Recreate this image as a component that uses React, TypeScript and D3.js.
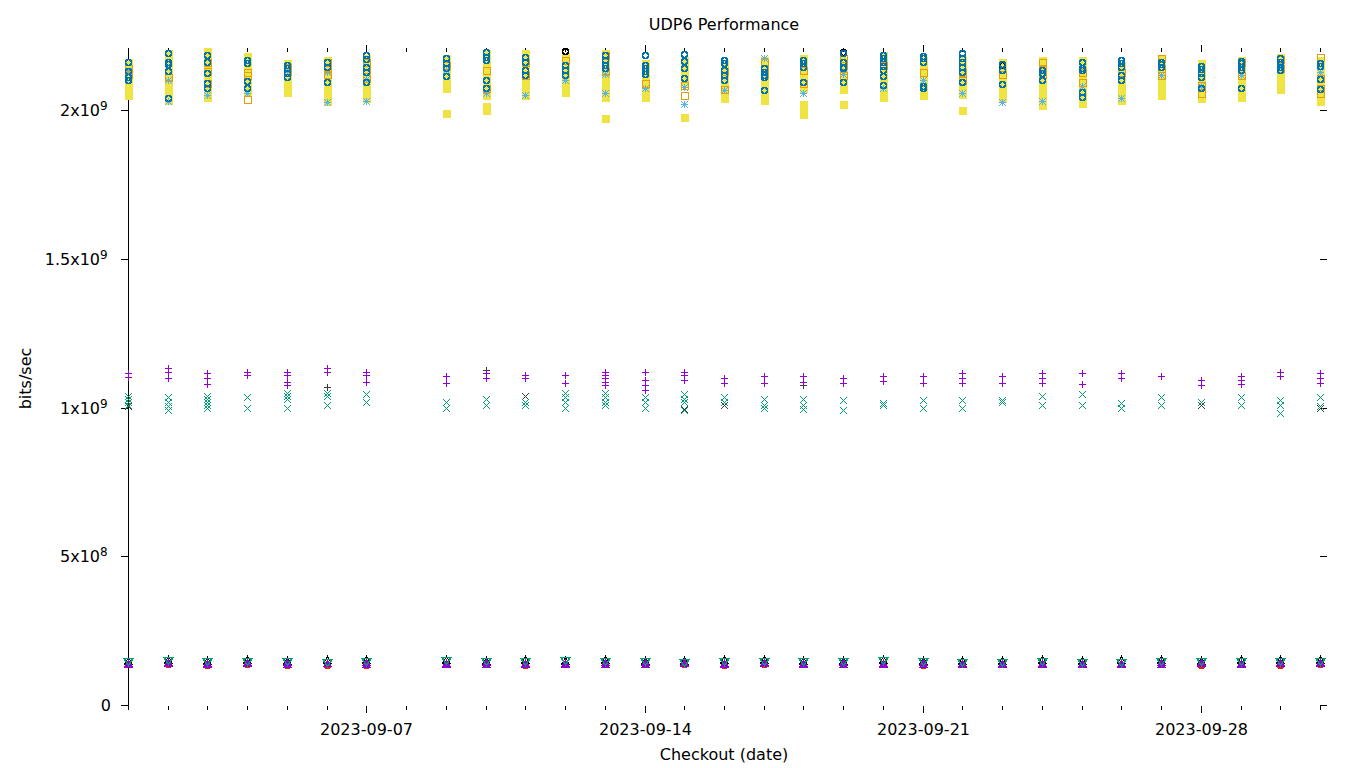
import React from "react";
import * as d3 from "d3";

// ---- data (values in units of 1e9 bits/sec) ----
const dates: string[] = [
  "2023-09-01", "2023-09-02", "2023-09-03", "2023-09-04", "2023-09-05", "2023-09-06", "2023-09-07",
  "2023-09-09", "2023-09-10", "2023-09-11", "2023-09-12", "2023-09-13", "2023-09-14", "2023-09-15",
  "2023-09-16", "2023-09-17", "2023-09-18", "2023-09-19", "2023-09-20", "2023-09-21", "2023-09-22",
  "2023-09-23", "2023-09-24", "2023-09-25", "2023-09-26", "2023-09-27", "2023-09-28", "2023-09-29",
  "2023-09-30", "2023-10-01",
];

const xTickLabels: string[] = ["2023-09-07", "2023-09-14", "2023-09-21", "2023-09-28"];
const yTickValues: number[] = [0, 0.5, 1, 1.5, 2];
const yTickMantissa: string[] = ["0", "5x10", "1x10", "1.5x10", "2x10"];
const yTickExponent: string[] = ["", "8", "9", "9", "9"];

const yellowSquares: number[][] = [
  [2.16, 2.14, 2.12, 2.10, 2.08, 2.06, 2.05],
  [2.19, 2.17, 2.15, 2.13, 2.11, 2.09, 2.07, 2.05, 2.035],
  [2.20, 2.18, 2.16, 2.14, 2.12, 2.10, 2.08, 2.06, 2.045],
  [2.18, 2.16, 2.14, 2.12, 2.10, 2.08, 2.06],
  [2.158, 2.14, 2.12, 2.10, 2.08, 2.06],
  [2.168, 2.15, 2.13, 2.11, 2.09, 2.07, 2.05, 2.03],
  [2.175, 2.155, 2.135, 2.115, 2.095, 2.075, 2.055, 2.04],
  [2.175, 2.155, 2.135, 2.115, 2.095, 2.075, 1.99],
  [2.19, 2.17, 2.15, 2.13, 2.11, 2.09, 2.07, 2.05, 2.015, 2.0],
  [2.19, 2.17, 2.15, 2.13, 2.11, 2.09, 2.07, 2.05],
  [2.18, 2.16, 2.14, 2.12, 2.10, 2.08, 2.06],
  [2.19, 2.17, 2.15, 2.13, 2.11, 2.09, 2.07, 2.045, 1.972],
  [2.158, 2.14, 2.12, 2.10, 2.08, 2.06, 2.045],
  [2.168, 2.15, 2.13, 2.11, 2.09, 1.976],
  [2.158, 2.14, 2.12, 2.10, 2.08, 2.06, 2.04],
  [2.168, 2.15, 2.13, 2.11, 2.09, 2.07, 2.05, 2.035],
  [2.175, 2.155, 2.135, 2.115, 2.095, 2.075, 2.02, 2.0, 1.985],
  [2.168, 2.15, 2.13, 2.11, 2.09, 2.07, 2.02],
  [2.185, 2.165, 2.145, 2.125, 2.105, 2.085, 2.065, 2.045],
  [2.168, 2.15, 2.13, 2.11, 2.09, 2.07, 2.05],
  [2.168, 2.15, 2.13, 2.11, 2.09, 2.07, 2.055, 2.0],
  [2.16, 2.14, 2.12, 2.10, 2.08, 2.06, 2.04],
  [2.168, 2.15, 2.13, 2.11, 2.09, 2.07, 2.05, 2.03, 2.017],
  [2.168, 2.15, 2.13, 2.11, 2.09, 2.07, 2.05, 2.03, 2.022],
  [2.15, 2.13, 2.11, 2.09, 2.07, 2.05, 2.035],
  [2.175, 2.155, 2.135, 2.115, 2.09, 2.07, 2.05],
  [2.158, 2.14, 2.12, 2.10, 2.08, 2.06, 2.04],
  [2.168, 2.15, 2.13, 2.11, 2.09, 2.07, 2.05, 2.045],
  [2.178, 2.16, 2.14, 2.12, 2.10, 2.085, 2.07],
  [2.168, 2.15, 2.13, 2.11, 2.09, 2.07, 2.05, 2.03],
];

const skyStars: number[][] = [
  [2.13], [2.10, 2.03], [2.05], [2.057], [2.13], [2.128, 2.027], [2.104, 2.03],
  [2.134], [2.057], [2.05], [2.10], [2.121, 2.057], [2.074], [2.077, 2.02],
  [2.067], [2.175], [2.057], [2.12], [2.074], [2.10], [2.057],
  [2.027], [2.03], [2.08], [2.04], [2.118], [2.08], [2.118],
  [2.15], [2.128],
];

const orangeSquares: number[][] = [
  [2.14, 2.12], [2.11], [2.16, 2.13, 2.09], [2.128, 2.118, 2.037], [2.145, 2.131], [2.161, 2.138, 2.12], [2.161, 2.138, 2.108],
  [2.151], [2.134, 2.074], [2.16, 2.117], [2.168], [2.185, 2.13], [2.09], [2.084, 2.05],
  [2.13, 2.07], [2.16, 2.14, 2.12], [2.134, 2.091], [2.175, 2.15, 2.118], [2.15], [2.128], [2.128, 2.10],
  [2.12], [2.16, 2.141, 2.121], [2.128, 2.094], [2.128], [2.175, 2.14, 2.118], [2.084, 2.057], [2.16, 2.118],
  [2.17, 2.14], [2.178, 2.108, 2.074, 2.057],
];

const blueCircles: number[][] = [
  [2.16, 2.13, 2.11, 2.10],
  [2.19, 2.16, 2.155, 2.13, 2.04],
  [2.185, 2.16, 2.125, 2.09, 2.074],
  [2.168, 2.158, 2.097, 2.074],
  [2.151, 2.141, 2.124, 2.111],
  [2.161, 2.144, 2.094],
  [2.185, 2.171, 2.144, 2.128, 2.094],
  [2.175, 2.158, 2.141, 2.114],
  [2.195, 2.178, 2.168, 2.101, 2.074],
  [2.178, 2.161, 2.134, 2.118],
  [2.151, 2.134, 2.117],
  [2.185, 2.168, 2.151, 2.141],
  [2.185, 2.15, 2.14, 2.13, 2.12],
  [2.188, 2.165, 2.141, 2.107],
  [2.168, 2.158, 2.134, 2.117, 2.101],
  [2.141, 2.128, 2.118, 2.111, 2.067],
  [2.168, 2.158, 2.144, 2.094],
  [2.19, 2.161, 2.144, 2.141, 2.094],
  [2.185, 2.175, 2.161, 2.148, 2.134, 2.114, 2.084],
  [2.181, 2.175, 2.161, 2.081, 2.074],
  [2.19, 2.175, 2.161, 2.144, 2.128, 2.094],
  [2.155, 2.134, 2.087],
  [2.134, 2.124, 2.101],
  [2.161, 2.141, 2.134, 2.06, 2.044],
  [2.168, 2.158, 2.144, 2.117, 2.101],
  [2.161, 2.155, 2.144],
  [2.148, 2.138, 2.124, 2.111, 2.074],
  [2.165, 2.158, 2.144, 2.134, 2.074],
  [2.175, 2.161, 2.155, 2.144, 2.134],
  [2.158, 2.148, 2.104, 2.071],
];

const blackCircles: number[][] = [
  [], [], [], [], [], [], [],
  [], [], [], [2.2], [], [], [],
  [], [], [], [2.195], [], [], [],
  [2.15], [], [], [], [], [], [],
  [], [],
];

const purplePlus: number[][] = [
  [1.116, 1.102], [1.133, 1.119, 1.099], [1.116, 1.099, 1.079], [1.119, 1.109], [1.119, 1.109, 1.086, 1.076], [1.133, 1.119], [1.119, 1.109, 1.086],
  [1.106, 1.082], [1.116, 1.099], [1.109, 1.099], [1.109, 1.082], [1.119, 1.109, 1.099, 1.086, 1.076], [1.119, 1.092, 1.076, 1.059], [1.119, 1.109, 1.092],
  [1.099, 1.082], [1.106, 1.082], [1.106, 1.086], [1.099, 1.082], [1.106, 1.089], [1.106, 1.082], [1.116, 1.099, 1.082],
  [1.106, 1.082], [1.116, 1.099, 1.082], [1.116, 1.079], [1.116, 1.099], [1.106], [1.092, 1.076], [1.106, 1.092, 1.079],
  [1.119, 1.106], [1.116, 1.099, 1.082],
];

const greenCross: number[][] = [
  [1.04, 1.03, 1.02, 1.01], [1.035, 1.02, 1.005, 0.99], [1.04, 1.03, 1.02, 1.01, 1.0], [1.035, 1.0], [1.05, 1.04, 1.03, 0.998], [1.05, 1.04, 1.01], [1.045, 1.02],
  [1.019, 1.0], [1.03, 1.01], [1.019, 1.008], [1.05, 1.035, 1.02, 1.0], [1.05, 1.035, 1.02, 1.01], [1.035, 1.02, 1.0], [1.045, 1.03, 1.02, 0.99],
  [1.035, 1.02], [1.03, 1.008, 0.998], [1.03, 1.01, 0.995], [1.025, 0.992], [1.015, 1.01], [1.025, 0.998], [1.025, 0.998],
  [1.025, 1.019], [1.04, 1.008], [1.045, 1.008], [1.015, 0.998], [1.035, 1.01], [1.02], [1.035, 1.01],
  [1.025, 1.008, 0.982], [1.035, 1.005],
];

const blackPlus: number[][] = [
  [], [], [], [], [], [1.069], [],
  [], [1.126], [], [1.108], [], [], [],
  [], [], [1.076], [], [], [], [],
  [], [], [], [], [], [], [],
  [], [],
];

const blackCross: number[][] = [
  [1.005], [], [], [], [0.998], [], [1.045],
  [], [], [1.037], [], [], [], [0.995],
  [1.008], [], [], [], [], [], [],
  [], [], [], [], [], [1.008], [],
  [], [1.0],
];

const redCircles: number[][] = [
  [0.137], [0.138], [0.136], [0.137], [0.134], [0.135], [0.135],
  [0.137], [0.137], [0.136], [0.137], [0.137], [0.137], [0.138],
  [0.136], [0.138], [0.137], [0.137], [0.138], [0.136], [0.137],
  [0.137], [0.137], [0.137], [0.138], [0.137], [0.133], [0.137],
  [0.135], [0.137],
];

const blackTriangles: number[][] = [
  [0.149], [0.15], [0.149], [0.15], [0.149], [0.151], [0.151],
  [0.15], [0.149], [0.15], [0.149], [0.15], [0.149], [0.148],
  [0.15], [0.15], [0.149], [0.149], [0.15], [0.149], [0.148],
  [0.149], [0.15], [0.149], [0.151], [0.15], [0.149], [0.151],
  [0.15], [0.15],
];

const purpleTriangles: number[][] = [
  [0.142, 0.137], [0.145, 0.141], [0.142, 0.137], [0.145, 0.14], [0.143, 0.137], [0.142, 0.14], [0.143, 0.139],
  [0.142, 0.137], [0.143, 0.138], [0.142, 0.138], [0.142, 0.137], [0.143, 0.137], [0.143, 0.138], [0.143, 0.141],
  [0.142, 0.139], [0.144, 0.141], [0.142, 0.137], [0.143, 0.137], [0.142, 0.137], [0.143, 0.139], [0.142, 0.138],
  [0.142, 0.138], [0.142, 0.137], [0.142, 0.137], [0.142, 0.139], [0.143, 0.139], [0.144, 0.141], [0.142, 0.139],
  [0.143, 0.14], [0.143, 0.14],
];

const greenTriangles: number[][] = [
  [0.148], [0.15], [0.147], [0.148], [0.147], [0.146], [0.148],
  [0.15], [0.148], [0.148], [0.15], [0.147], [0.147], [0.146],
  [0.147], [0.149], [0.147], [0.148], [0.15], [0.147], [0.146],
  [0.146], [0.147], [0.146], [0.146], [0.147], [0.148], [0.147],
  [0.147], [0.147],
];

// ---- styles ----
const COLORS = {
  purple: "#9400D3",
  green: "#009E73",
  sky: "#56B4E9",
  orange: "#E69F00",
  yellow: "#F0E442",
  blue: "#0072B2",
  red: "#E51E10",
  black: "#000000",
  darkgray: "#3a3a3a",
};

type Shape = "plus" | "cross" | "star" | "osq" | "fsq" | "ocirc" | "fcirc" | "otri" | "ftri" | "otridown";

const seriesList: { data: number[][]; shape: Shape; color: string }[] = [
  { data: redCircles, shape: "fcirc", color: COLORS.red },
  { data: blackTriangles, shape: "otri", color: COLORS.black },
  { data: purpleTriangles, shape: "ftri", color: COLORS.purple },
  { data: greenTriangles, shape: "otridown", color: COLORS.green },
  { data: blackCross, shape: "cross", color: COLORS.darkgray },
  { data: blackPlus, shape: "plus", color: COLORS.darkgray },
  { data: greenCross, shape: "cross", color: COLORS.green },
  { data: purplePlus, shape: "plus", color: COLORS.purple },
  { data: yellowSquares, shape: "fsq", color: COLORS.yellow },
  { data: skyStars, shape: "star", color: COLORS.sky },
  { data: orangeSquares, shape: "osq", color: COLORS.orange },
  { data: blackCircles, shape: "ocirc", color: COLORS.black },
  { data: blueCircles, shape: "ocirc", color: COLORS.blue },
];

const W = 1360;
const H = 768;
const LEFT = 128;
const RIGHT = 1320;
const TOP = 52;
const BOTTOM = 705;
const FONT = "'DejaVu Sans', sans-serif";

function Marker({ shape, x, y, color }: { shape: Shape; x: number; y: number; color: string }) {
  const h = 3.5;
  switch (shape) {
    case "plus":
      return <path d={`M${x - h},${y}H${x + h}M${x},${y - h}V${y + h}`} stroke={color} fill="none" strokeWidth={1} />;
    case "cross":
      return <path d={`M${x - h},${y - h}L${x + h},${y + h}M${x - h},${y + h}L${x + h},${y - h}`} stroke={color} fill="none" strokeWidth={1} />;
    case "star":
      return (
        <path
          d={`M${x - h},${y}H${x + h}M${x},${y - h}V${y + h}M${x - h},${y - h}L${x + h},${y + h}M${x - h},${y + h}L${x + h},${y - h}`}
          stroke={color}
          fill="none"
          strokeWidth={1}
        />
      );
    case "osq":
      return <rect x={x - h} y={y - h} width={2 * h} height={2 * h} stroke={color} fill="none" strokeWidth={1} />;
    case "fsq":
      return <rect x={x - h - 0.5} y={y - h - 0.5} width={2 * h + 1} height={2 * h + 1} fill={color} />;
    case "ocirc":
      return <circle cx={x} cy={y} r={3} stroke={color} fill="none" strokeWidth={1.5} />;
    case "fcirc":
      return <circle cx={x} cy={y} r={3.5} fill={color} />;
    case "otri":
      return <path d={`M${x},${y - h - 0.5}L${x + h + 0.5},${y + h - 0.5}H${x - h - 0.5}Z`} stroke={color} fill="none" strokeWidth={1} />;
    case "ftri":
      return <path d={`M${x},${y - h - 1}L${x + h + 1},${y + h}H${x - h - 1}Z`} fill={color} />;
    case "otridown":
      return <path d={`M${x - h - 1},${y - h + 0.5}H${x + h + 1}L${x},${y + h + 0.5}Z`} stroke={color} fill="none" strokeWidth={1.5} />;
  }
  return null;
}

export default function App() {
  const parse = d3.utcParse("%Y-%m-%d");
  const xDomain: [Date, Date] = [parse("2023-09-01") as Date, parse("2023-10-01") as Date];
  const x = d3.scaleUtc().domain(xDomain).range([LEFT, RIGHT]);
  const y = d3.scaleLinear().domain([0, 2.195]).range([BOTTOM, TOP]);

  const dayTicks = d3.utcDay.range(xDomain[0], d3.utcDay.offset(xDomain[1], 1));
  const majorSet = new Set(xTickLabels);
  const fmt = d3.utcFormat("%Y-%m-%d");

  const px = (v: number) => Math.round(v) + 0.5;

  const marks: React.ReactNode[] = [];
  seriesList.forEach((s, si) => {
    s.data.forEach((vals, di) => {
      const d = parse(dates[di]) as Date;
      vals.forEach((v, vi) => {
        marks.push(
          <Marker key={`${si}-${di}-${vi}`} shape={s.shape} x={px(x(d))} y={px(y(v))} color={s.color} />
        );
      });
    });
  });

  return (
    <svg
      width={W}
      height={H}
      style={{ position: "absolute", left: 0, top: 0, background: "#fff" }}
      fontFamily={FONT}
    >
      <rect x={0} y={0} width={W} height={H} fill="#fff" />
      {/* title */}
      <text x={(LEFT + RIGHT) / 2} y={30} textAnchor="middle" fontSize={16} fill="#000">
        UDP6 Performance
      </text>
      {/* axis labels */}
      <text x={(LEFT + RIGHT) / 2} y={760} textAnchor="middle" fontSize={16} fill="#000">
        Checkout (date)
      </text>
      <text transform={`translate(31,${(TOP + BOTTOM) / 2}) rotate(-90)`} textAnchor="middle" fontSize={16} fill="#000">
        bits/sec
      </text>

      {/* left axis line */}
      <line x1={LEFT + 0.5} x2={LEFT + 0.5} y1={TOP} y2={BOTTOM + 1} stroke="#000" strokeWidth={1} shapeRendering="crispEdges" />

      {/* y ticks */}
      {yTickValues.map((v, i) => {
        const yy = px(y(v));
        return (
          <g key={`yt${i}`}>
            <line x1={LEFT - 7} x2={LEFT} y1={yy} y2={yy} stroke="#000" shapeRendering="crispEdges" />
            <line x1={RIGHT} x2={RIGHT + 7} y1={yy} y2={yy} stroke="#000" shapeRendering="crispEdges" />
            <text x={yTickExponent[i] ? LEFT - 28 : LEFT - 17} y={yy + 5.5} textAnchor="end" fontSize={16} fill="#000">
              {yTickMantissa[i]}
            </text>
            {yTickExponent[i] && (
              <text x={LEFT - 28} y={yy - 1} textAnchor="start" fontSize={12} fill="#000">
                {yTickExponent[i]}
              </text>
            )}
          </g>
        );
      })}

      {/* x ticks */}
      {dayTicks.map((d, i) => {
        const xx = px(x(d));
        const major = majorSet.has(fmt(d));
        const len = major ? 7 : 4;
        return (
          <g key={`xt${i}`}>
            <line x1={xx} x2={xx} y1={BOTTOM + 1} y2={BOTTOM + 1 + len} stroke="#000" shapeRendering="crispEdges" />
            <line x1={xx} x2={xx} y1={TOP - len} y2={TOP} stroke="#000" shapeRendering="crispEdges" />
            {major && (
              <text x={xx} y={735} textAnchor="middle" fontSize={16} fill="#000">
                {fmt(d)}
              </text>
            )}
          </g>
        );
      })}

      {/* points */}
      <g shapeRendering="crispEdges">{marks}</g>
    </svg>
  );
}
